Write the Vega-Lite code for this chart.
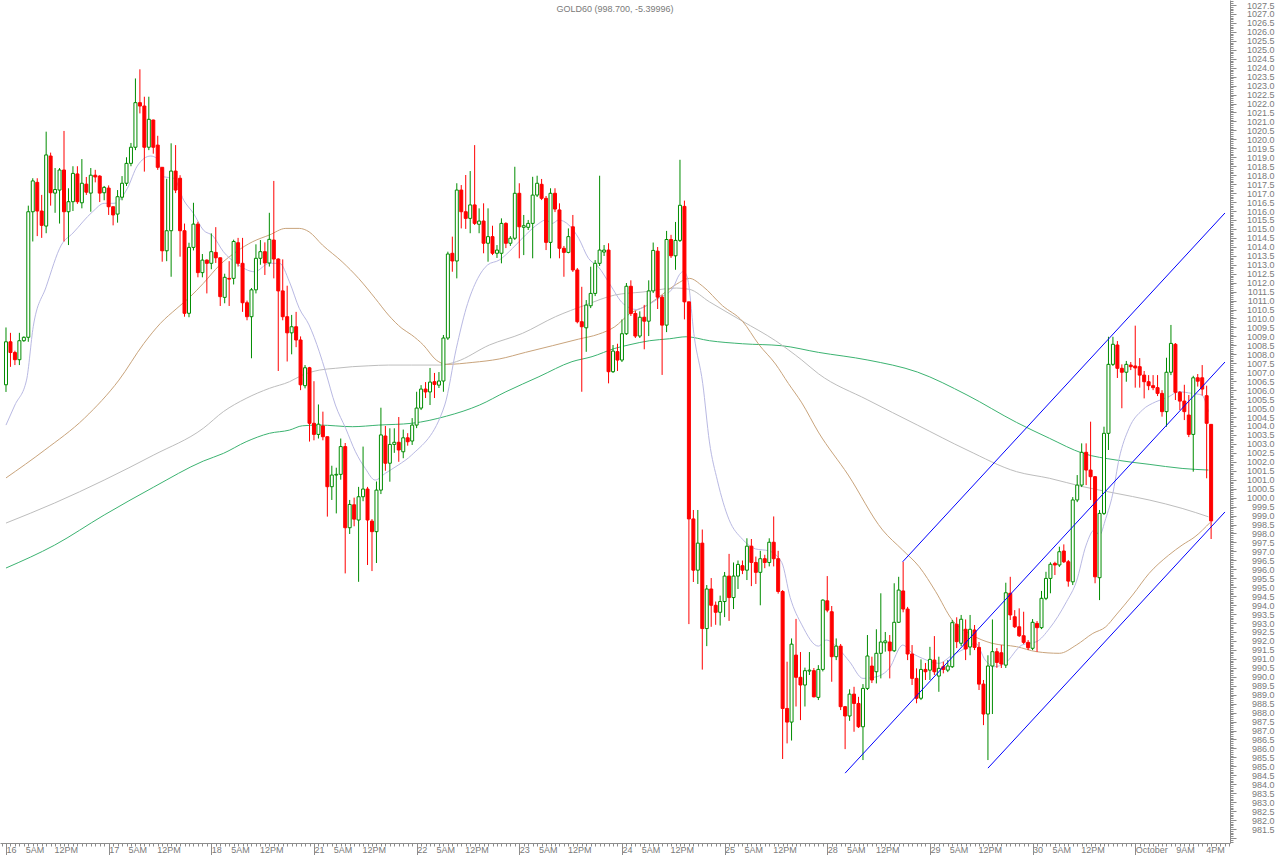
{
  "$schema": "https://vega.github.io/schema/vega-lite/v6.json",
  "width": 1230,
  "height": 843,
  "autosize": {"type": "none"},
  "padding": {"left": 0, "top": 0, "right": 50, "bottom": 12},
  "background": "white",
  "config": {"view": {"stroke": null}},
  "title": {"text": "GOLD60 (998.700, -5.39996)", "anchor": "middle", "frame": "group", "offset": -13, "dy": 1, "fontSize": 9, "font": "Liberation Sans", "fontWeight": "normal", "color": "#7a7a7a"},
  "resolve": {"axis": {"x": "independent", "y": "independent"}},
  "datasets": {
    "candles": [
      {"n":0,"o":1006.3,"h":1009.5,"l":1005.9,"c":1008.7},
      {"n":1,"o":1008.7,"h":1009.2,"l":1007.3,"c":1008.1},
      {"n":2,"o":1008.1,"h":1008.2,"l":1007.4,"c":1007.7},
      {"n":3,"o":1007.7,"h":1009.2,"l":1007.4,"c":1008.76},
      {"n":4,"o":1008.76,"h":1009.0,"l":1008.7,"c":1008.95},
      {"n":5,"o":1008.95,"h":1016.3,"l":1008.7,"c":1015.96},
      {"n":6,"o":1015.96,"h":1017.83,"l":1014.3,"c":1017.68},
      {"n":7,"o":1017.6,"h":1017.83,"l":1014.6,"c":1016.0},
      {"n":8,"o":1016.0,"h":1016.9,"l":1014.5,"c":1015.2},
      {"n":9,"o":1015.16,"h":1020.43,"l":1014.76,"c":1019.13},
      {"n":10,"o":1019.07,"h":1019.26,"l":1016.3,"c":1017.02},
      {"n":11,"o":1017.0,"h":1018.4,"l":1015.9,"c":1017.2},
      {"n":12,"o":1017.17,"h":1018.4,"l":1015.3,"c":1018.29},
      {"n":13,"o":1018.29,"h":1020.47,"l":1014.3,"c":1015.96},
      {"n":14,"o":1015.96,"h":1017.27,"l":1014.1,"c":1016.52},
      {"n":15,"o":1016.52,"h":1018.5,"l":1016.0,"c":1018.1},
      {"n":16,"o":1018.07,"h":1018.5,"l":1016.4,"c":1016.52},
      {"n":17,"o":1016.46,"h":1018.9,"l":1016.15,"c":1017.55},
      {"n":18,"o":1017.5,"h":1017.9,"l":1016.9,"c":1017.05},
      {"n":19,"o":1017.0,"h":1018.4,"l":1015.96,"c":1018.0},
      {"n":20,"o":1018.0,"h":1018.3,"l":1017.6,"c":1017.9},
      {"n":21,"o":1017.95,"h":1018.0,"l":1016.5,"c":1017.0},
      {"n":22,"o":1017.02,"h":1017.4,"l":1016.6,"c":1017.32},
      {"n":23,"o":1017.28,"h":1017.43,"l":1015.78,"c":1016.24},
      {"n":24,"o":1016.24,"h":1016.24,"l":1015.2,"c":1015.78},
      {"n":25,"o":1015.83,"h":1017.17,"l":1015.35,"c":1016.8},
      {"n":26,"o":1016.77,"h":1017.95,"l":1016.6,"c":1017.55},
      {"n":27,"o":1017.55,"h":1019.0,"l":1017.4,"c":1018.66},
      {"n":28,"o":1018.66,"h":1019.8,"l":1018.5,"c":1019.56},
      {"n":29,"o":1019.56,"h":1023.4,"l":1019.4,"c":1022.05},
      {"n":30,"o":1022.05,"h":1023.91,"l":1021.45,"c":1021.86},
      {"n":31,"o":1021.86,"h":1022.38,"l":1018.2,"c":1019.56},
      {"n":32,"o":1019.56,"h":1022.38,"l":1019.4,"c":1021.12},
      {"n":33,"o":1021.08,"h":1021.1,"l":1019.2,"c":1019.56},
      {"n":34,"o":1019.68,"h":1020.2,"l":1018.3,"c":1018.44},
      {"n":35,"o":1018.44,"h":1018.44,"l":1013.17,"c":1013.78},
      {"n":36,"o":1013.78,"h":1017.8,"l":1013.2,"c":1014.9},
      {"n":37,"o":1014.9,"h":1019.78,"l":1012.33,"c":1018.23},
      {"n":38,"o":1018.23,"h":1019.68,"l":1017.0,"c":1017.17},
      {"n":39,"o":1017.83,"h":1018.0,"l":1013.45,"c":1014.9},
      {"n":40,"o":1014.9,"h":1015.3,"l":1010.1,"c":1010.29},
      {"n":41,"o":1010.29,"h":1014.23,"l":1010.07,"c":1013.97},
      {"n":42,"o":1013.97,"h":1016.46,"l":1013.8,"c":1015.27},
      {"n":43,"o":1015.27,"h":1015.4,"l":1012.3,"c":1012.56},
      {"n":44,"o":1012.56,"h":1013.6,"l":1012.3,"c":1013.26},
      {"n":45,"o":1013.26,"h":1013.3,"l":1011.4,"c":1013.08},
      {"n":46,"o":1013.08,"h":1014.75,"l":1012.75,"c":1013.73},
      {"n":47,"o":1013.69,"h":1015.1,"l":1013.1,"c":1013.39},
      {"n":48,"o":1013.39,"h":1013.4,"l":1010.7,"c":1011.22},
      {"n":49,"o":1011.18,"h":1012.5,"l":1010.85,"c":1012.3},
      {"n":50,"o":1012.24,"h":1013.2,"l":1010.7,"c":1012.2},
      {"n":51,"o":1012.24,"h":1014.4,"l":1011.9,"c":1014.3},
      {"n":52,"o":1014.23,"h":1014.5,"l":1012.9,"c":1013.08},
      {"n":53,"o":1013.08,"h":1014.5,"l":1010.37,"c":1010.88},
      {"n":54,"o":1010.88,"h":1011.0,"l":1009.9,"c":1010.1},
      {"n":55,"o":1010.1,"h":1011.7,"l":1007.78,"c":1011.6},
      {"n":56,"o":1011.6,"h":1014.14,"l":1011.4,"c":1013.36},
      {"n":57,"o":1013.36,"h":1014.38,"l":1013.0,"c":1013.73},
      {"n":58,"o":1013.73,"h":1014.25,"l":1012.43,"c":1013.1},
      {"n":59,"o":1013.1,"h":1015.9,"l":1012.9,"c":1014.42},
      {"n":60,"o":1014.38,"h":1017.68,"l":1012.24,"c":1013.32},
      {"n":61,"o":1013.32,"h":1013.36,"l":1007.07,"c":1011.54},
      {"n":62,"o":1011.54,"h":1013.3,"l":1009.9,"c":1010.1},
      {"n":63,"o":1010.1,"h":1011.83,"l":1007.6,"c":1009.2},
      {"n":64,"o":1009.2,"h":1010.2,"l":1008.0,"c":1009.54},
      {"n":65,"o":1009.54,"h":1010.37,"l":1008.4,"c":1008.8},
      {"n":66,"o":1008.8,"h":1009.0,"l":1006.0,"c":1006.3},
      {"n":67,"o":1006.25,"h":1007.4,"l":1006.1,"c":1007.25},
      {"n":68,"o":1007.25,"h":1007.3,"l":1003.13,"c":1004.15},
      {"n":69,"o":1004.15,"h":1006.5,"l":1003.2,"c":1003.53},
      {"n":70,"o":1003.53,"h":1005.2,"l":1003.3,"c":1004.1},
      {"n":71,"o":1004.0,"h":1004.8,"l":1003.2,"c":1003.4},
      {"n":72,"o":1003.4,"h":1003.4,"l":998.94,"c":1000.61},
      {"n":73,"o":1000.61,"h":1001.78,"l":999.87,"c":1001.26},
      {"n":74,"o":1001.26,"h":1001.67,"l":999.12,"c":1001.3},
      {"n":75,"o":1001.3,"h":1003.3,"l":1001.0,"c":1002.85},
      {"n":76,"o":1002.85,"h":1003.05,"l":995.77,"c":998.32},
      {"n":77,"o":998.32,"h":999.87,"l":997.97,"c":999.62},
      {"n":78,"o":999.6,"h":1000.0,"l":998.4,"c":998.8},
      {"n":79,"o":998.75,"h":1000.6,"l":995.3,"c":1000.05},
      {"n":80,"o":1000.05,"h":1002.85,"l":999.8,"c":1000.48},
      {"n":81,"o":1000.48,"h":1000.6,"l":996.24,"c":998.75},
      {"n":82,"o":998.69,"h":998.8,"l":995.9,"c":998.1},
      {"n":83,"o":998.1,"h":1000.9,"l":996.35,"c":1000.42},
      {"n":84,"o":1000.42,"h":1005.02,"l":1000.2,"c":1003.5},
      {"n":85,"o":1003.44,"h":1004.0,"l":1001.5,"c":1001.92},
      {"n":86,"o":1001.92,"h":1003.87,"l":1000.89,"c":1002.97},
      {"n":87,"o":1002.97,"h":1003.87,"l":1002.5,"c":1003.09},
      {"n":88,"o":1003.09,"h":1004.5,"l":1002.0,"c":1002.66},
      {"n":89,"o":1002.56,"h":1003.8,"l":1002.2,"c":1003.34},
      {"n":90,"o":1003.34,"h":1003.6,"l":1002.9,"c":1003.12},
      {"n":91,"o":1003.16,"h":1004.44,"l":1002.94,"c":1004.05},
      {"n":92,"o":1004.05,"h":1005.91,"l":1003.88,"c":1005.0},
      {"n":93,"o":1005.0,"h":1006.28,"l":1004.89,"c":1006.06},
      {"n":94,"o":1006.06,"h":1006.45,"l":1005.56,"c":1005.9},
      {"n":95,"o":1005.9,"h":1007.24,"l":1005.17,"c":1006.45},
      {"n":96,"o":1006.47,"h":1006.96,"l":1005.56,"c":1006.32},
      {"n":97,"o":1006.28,"h":1007.01,"l":1006.12,"c":1006.51},
      {"n":98,"o":1006.51,"h":1009.08,"l":1005.91,"c":1008.91},
      {"n":99,"o":1008.91,"h":1013.73,"l":1008.8,"c":1013.6},
      {"n":100,"o":1013.64,"h":1014.57,"l":1012.61,"c":1013.21},
      {"n":101,"o":1013.21,"h":1017.55,"l":1012.24,"c":1017.17},
      {"n":102,"o":1017.17,"h":1017.45,"l":1015.03,"c":1015.96},
      {"n":103,"o":1015.96,"h":1018.01,"l":1015.0,"c":1015.59},
      {"n":104,"o":1015.59,"h":1018.23,"l":1014.76,"c":1016.34},
      {"n":105,"o":1016.34,"h":1019.68,"l":1015.22,"c":1015.31},
      {"n":106,"o":1015.26,"h":1016.15,"l":1014.76,"c":1015.44},
      {"n":107,"o":1015.44,"h":1016.43,"l":1013.64,"c":1014.2},
      {"n":108,"o":1014.2,"h":1016.15,"l":1013.17,"c":1014.57},
      {"n":109,"o":1014.57,"h":1015.18,"l":1013.54,"c":1013.64},
      {"n":110,"o":1013.64,"h":1014.1,"l":1013.38,"c":1013.82},
      {"n":111,"o":1013.64,"h":1015.59,"l":1013.08,"c":1015.31},
      {"n":112,"o":1015.31,"h":1015.37,"l":1013.93,"c":1014.2},
      {"n":113,"o":1014.2,"h":1014.6,"l":1014.05,"c":1014.48},
      {"n":114,"o":1014.48,"h":1018.47,"l":1014.38,"c":1016.99},
      {"n":115,"o":1016.99,"h":1017.55,"l":1013.36,"c":1015.12},
      {"n":116,"o":1015.09,"h":1015.78,"l":1013.54,"c":1015.18},
      {"n":117,"o":1015.09,"h":1015.5,"l":1014.94,"c":1015.31},
      {"n":118,"o":1015.31,"h":1017.91,"l":1013.36,"c":1016.89},
      {"n":119,"o":1016.89,"h":1017.97,"l":1016.78,"c":1017.55},
      {"n":120,"o":1017.49,"h":1017.79,"l":1016.61,"c":1016.71},
      {"n":121,"o":1016.71,"h":1016.84,"l":1013.82,"c":1014.25},
      {"n":122,"o":1014.25,"h":1017.27,"l":1013.36,"c":1016.99},
      {"n":123,"o":1016.99,"h":1017.27,"l":1015.94,"c":1016.11},
      {"n":124,"o":1016.06,"h":1016.43,"l":1013.36,"c":1013.92},
      {"n":125,"o":1013.92,"h":1014.05,"l":1012.33,"c":1013.69},
      {"n":126,"o":1013.69,"h":1015.03,"l":1013.64,"c":1014.57},
      {"n":127,"o":1015.12,"h":1015.78,"l":1012.6,"c":1012.71},
      {"n":128,"o":1012.71,"h":1012.82,"l":1009.73,"c":1009.82},
      {"n":129,"o":1009.82,"h":1011.77,"l":1005.91,"c":1009.54},
      {"n":130,"o":1009.48,"h":1011.03,"l":1008.14,"c":1010.75},
      {"n":131,"o":1010.71,"h":1012.89,"l":1010.58,"c":1011.4},
      {"n":132,"o":1011.4,"h":1013.26,"l":1011.25,"c":1013.08},
      {"n":133,"o":1013.08,"h":1017.97,"l":1012.93,"c":1013.82},
      {"n":134,"o":1013.71,"h":1014.1,"l":1013.49,"c":1013.82},
      {"n":135,"o":1013.82,"h":1014.2,"l":1006.38,"c":1007.03},
      {"n":136,"o":1007.03,"h":1008.52,"l":1006.96,"c":1008.18},
      {"n":137,"o":1008.15,"h":1008.59,"l":1007.07,"c":1007.68},
      {"n":138,"o":1007.68,"h":1009.95,"l":1007.57,"c":1009.15},
      {"n":139,"o":1009.15,"h":1011.98,"l":1009.08,"c":1011.8},
      {"n":140,"o":1011.8,"h":1012.13,"l":1010.14,"c":1010.28},
      {"n":141,"o":1010.28,"h":1010.42,"l":1008.91,"c":1009.02},
      {"n":142,"o":1009.02,"h":1010.4,"l":1008.91,"c":1010.07},
      {"n":143,"o":1010.07,"h":1010.76,"l":1008.28,"c":1009.85},
      {"n":144,"o":1009.85,"h":1012.13,"l":1009.02,"c":1011.54},
      {"n":145,"o":1011.54,"h":1014.24,"l":1011.42,"c":1013.8},
      {"n":146,"o":1013.76,"h":1013.99,"l":1010.53,"c":1011.19},
      {"n":147,"o":1011.19,"h":1011.31,"l":1006.85,"c":1009.63},
      {"n":148,"o":1009.63,"h":1014.89,"l":1009.24,"c":1014.41},
      {"n":149,"o":1014.41,"h":1014.67,"l":1013.38,"c":1013.5},
      {"n":150,"o":1013.5,"h":1015.39,"l":1012.72,"c":1014.36},
      {"n":151,"o":1014.36,"h":1018.86,"l":1014.27,"c":1016.32},
      {"n":152,"o":1016.26,"h":1016.58,"l":1009.95,"c":1010.93},
      {"n":153,"o":1010.93,"h":1010.93,"l":992.94,"c":998.81},
      {"n":154,"o":998.81,"h":999.31,"l":995.29,"c":995.95},
      {"n":155,"o":995.95,"h":999.31,"l":995.18,"c":997.46},
      {"n":156,"o":997.46,"h":998.22,"l":990.4,"c":992.69},
      {"n":157,"o":992.69,"h":995.12,"l":991.71,"c":994.9},
      {"n":158,"o":994.9,"h":995.51,"l":992.79,"c":993.99},
      {"n":159,"o":993.99,"h":994.2,"l":992.9,"c":993.6},
      {"n":160,"o":993.6,"h":994.53,"l":992.86,"c":994.2},
      {"n":161,"o":994.2,"h":995.85,"l":993.33,"c":995.62},
      {"n":162,"o":995.62,"h":996.86,"l":993.12,"c":994.42},
      {"n":163,"o":994.42,"h":996.38,"l":993.78,"c":995.62},
      {"n":164,"o":995.62,"h":996.49,"l":994.9,"c":996.27},
      {"n":165,"o":996.2,"h":996.49,"l":995.73,"c":995.95},
      {"n":166,"o":995.95,"h":997.73,"l":995.4,"c":997.29},
      {"n":167,"o":997.29,"h":997.69,"l":995.06,"c":996.38},
      {"n":168,"o":996.38,"h":996.71,"l":995.18,"c":995.83},
      {"n":169,"o":995.83,"h":997.03,"l":993.99,"c":996.59},
      {"n":170,"o":996.59,"h":996.81,"l":996.06,"c":996.38},
      {"n":171,"o":996.38,"h":997.73,"l":996.16,"c":997.51},
      {"n":172,"o":997.51,"h":998.95,"l":996.16,"c":996.59},
      {"n":173,"o":996.59,"h":997.03,"l":994.64,"c":994.76},
      {"n":174,"o":994.76,"h":994.84,"l":985.41,"c":988.23},
      {"n":175,"o":988.23,"h":990.84,"l":986.28,"c":987.47},
      {"n":176,"o":987.47,"h":992.14,"l":986.44,"c":991.82},
      {"n":177,"o":991.21,"h":993.23,"l":988.34,"c":989.97},
      {"n":178,"o":989.97,"h":991.38,"l":987.58,"c":989.54},
      {"n":179,"o":989.54,"h":990.51,"l":988.34,"c":990.34},
      {"n":180,"o":990.32,"h":991.38,"l":990.1,"c":990.37},
      {"n":181,"o":990.34,"h":990.49,"l":988.85,"c":988.88},
      {"n":182,"o":988.85,"h":990.65,"l":988.7,"c":990.41},
      {"n":183,"o":990.41,"h":994.32,"l":990.3,"c":994.28},
      {"n":184,"o":994.24,"h":995.62,"l":993.6,"c":993.72},
      {"n":185,"o":993.63,"h":993.95,"l":989.72,"c":991.12},
      {"n":186,"o":991.12,"h":992.14,"l":990.93,"c":991.71},
      {"n":187,"o":991.71,"h":991.83,"l":988.14,"c":988.33},
      {"n":188,"o":988.33,"h":988.37,"l":985.96,"c":987.81},
      {"n":189,"o":987.81,"h":989.3,"l":987.54,"c":989.03},
      {"n":190,"o":989.03,"h":989.44,"l":986.93,"c":988.51},
      {"n":191,"o":988.51,"h":988.88,"l":987.14,"c":987.21},
      {"n":192,"o":987.21,"h":989.59,"l":985.35,"c":989.35},
      {"n":193,"o":989.35,"h":992.33,"l":989.26,"c":991.16},
      {"n":194,"o":990.6,"h":991.12,"l":989.65,"c":989.82},
      {"n":195,"o":990.28,"h":992.65,"l":989.63,"c":991.31},
      {"n":196,"o":991.31,"h":994.66,"l":989.91,"c":991.94},
      {"n":197,"o":991.9,"h":992.5,"l":991.4,"c":992.0},
      {"n":198,"o":991.94,"h":992.33,"l":989.91,"c":991.45},
      {"n":199,"o":991.45,"h":995.22,"l":991.38,"c":993.04},
      {"n":200,"o":993.04,"h":995.58,"l":993.0,"c":994.84},
      {"n":201,"o":994.79,"h":996.42,"l":993.6,"c":993.78},
      {"n":202,"o":993.78,"h":993.9,"l":990.93,"c":991.27},
      {"n":203,"o":991.27,"h":991.77,"l":989.54,"c":989.91},
      {"n":204,"o":989.91,"h":990.47,"l":988.52,"c":988.8},
      {"n":205,"o":988.8,"h":990.97,"l":988.7,"c":990.41},
      {"n":206,"o":990.41,"h":990.77,"l":989.82,"c":990.28},
      {"n":207,"o":990.37,"h":991.67,"l":989.82,"c":990.97},
      {"n":208,"o":990.93,"h":992.27,"l":990.1,"c":990.28},
      {"n":209,"o":990.04,"h":991.12,"l":989.16,"c":990.47},
      {"n":210,"o":990.56,"h":990.84,"l":990.19,"c":990.41},
      {"n":211,"o":990.37,"h":990.93,"l":990.26,"c":990.6},
      {"n":212,"o":990.56,"h":993.17,"l":990.49,"c":993.02},
      {"n":213,"o":992.93,"h":993.32,"l":991.6,"c":991.96},
      {"n":214,"o":991.87,"h":993.45,"l":991.71,"c":993.21},
      {"n":215,"o":992.65,"h":993.2,"l":990.93,"c":991.55},
      {"n":216,"o":991.66,"h":993.45,"l":991.2,"c":992.65},
      {"n":217,"o":992.61,"h":992.89,"l":991.49,"c":991.64},
      {"n":218,"o":991.64,"h":991.94,"l":989.26,"c":989.59},
      {"n":219,"o":989.59,"h":989.82,"l":987.3,"c":987.92},
      {"n":220,"o":987.92,"h":991.2,"l":985.35,"c":990.6},
      {"n":221,"o":990.6,"h":993.2,"l":987.92,"c":991.4},
      {"n":222,"o":991.4,"h":991.6,"l":990.5,"c":990.8},
      {"n":223,"o":991.34,"h":991.77,"l":990.49,"c":990.71},
      {"n":224,"o":990.65,"h":995.25,"l":990.49,"c":994.69},
      {"n":225,"o":994.66,"h":995.58,"l":993.17,"c":993.45},
      {"n":226,"o":993.35,"h":993.72,"l":992.72,"c":992.79},
      {"n":227,"o":992.79,"h":993.82,"l":992.22,"c":992.29},
      {"n":228,"o":992.29,"h":993.63,"l":991.83,"c":991.92},
      {"n":229,"o":991.92,"h":992.05,"l":991.49,"c":991.62},
      {"n":230,"o":991.59,"h":993.22,"l":991.49,"c":993.04},
      {"n":231,"o":992.98,"h":993.11,"l":991.39,"c":992.74},
      {"n":232,"o":992.74,"h":994.79,"l":992.66,"c":994.38},
      {"n":233,"o":994.38,"h":995.86,"l":994.28,"c":995.49},
      {"n":234,"o":995.49,"h":996.39,"l":994.66,"c":996.28},
      {"n":235,"o":996.33,"h":996.42,"l":995.68,"c":996.24},
      {"n":236,"o":996.24,"h":997.26,"l":996.13,"c":996.98},
      {"n":237,"o":997.02,"h":997.39,"l":996.35,"c":996.42},
      {"n":238,"o":996.42,"h":996.52,"l":995.03,"c":995.34},
      {"n":239,"o":995.3,"h":1000.03,"l":995.12,"c":999.87},
      {"n":240,"o":999.87,"h":1001.26,"l":999.75,"c":1000.7},
      {"n":241,"o":1000.7,"h":1003.03,"l":1000.59,"c":1002.53},
      {"n":242,"o":1002.53,"h":1003.03,"l":1000.7,"c":1001.54},
      {"n":243,"o":1001.54,"h":1004.24,"l":999.87,"c":1001.17},
      {"n":244,"o":1001.17,"h":1001.2,"l":995.22,"c":995.58},
      {"n":245,"o":995.53,"h":999.31,"l":994.28,"c":999.12},
      {"n":246,"o":999.12,"h":1003.96,"l":999.03,"c":1003.59},
      {"n":247,"o":1003.59,"h":1008.98,"l":1002.66,"c":1007.44},
      {"n":248,"o":1007.44,"h":1008.98,"l":1007.35,"c":1008.56},
      {"n":249,"o":1008.52,"h":1008.74,"l":1006.68,"c":1007.22},
      {"n":250,"o":1007.22,"h":1007.44,"l":1004.99,"c":1007.0},
      {"n":251,"o":1007.0,"h":1007.63,"l":1006.47,"c":1007.44},
      {"n":252,"o":1007.4,"h":1007.57,"l":1007.12,"c":1007.31},
      {"n":253,"o":1007.35,"h":1009.6,"l":1006.14,"c":1007.24},
      {"n":254,"o":1007.31,"h":1007.79,"l":1006.14,"c":1006.84},
      {"n":255,"o":1006.84,"h":1007.07,"l":1005.54,"c":1006.47},
      {"n":256,"o":1006.47,"h":1006.84,"l":1006.0,"c":1006.25},
      {"n":257,"o":1006.25,"h":1006.84,"l":1006.0,"c":1006.14},
      {"n":258,"o":1006.14,"h":1006.84,"l":1005.67,"c":1005.82},
      {"n":259,"o":1005.82,"h":1006.0,"l":1004.52,"c":1004.8},
      {"n":260,"o":1004.8,"h":1007.81,"l":1003.96,"c":1007.0},
      {"n":261,"o":1007.0,"h":1009.64,"l":1006.84,"c":1008.61},
      {"n":262,"o":1008.56,"h":1008.63,"l":1005.45,"c":1005.88},
      {"n":263,"o":1005.88,"h":1005.95,"l":1004.89,"c":1005.39},
      {"n":264,"o":1005.39,"h":1006.3,"l":1004.33,"c":1004.8},
      {"n":265,"o":1004.61,"h":1005.73,"l":1003.38,"c":1003.53},
      {"n":266,"o":1003.53,"h":1006.8,"l":1001.45,"c":1006.69},
      {"n":267,"o":1006.69,"h":1006.9,"l":1006.2,"c":1006.5},
      {"n":268,"o":1006.69,"h":1007.4,"l":1005.7,"c":1006.06},
      {"n":269,"o":1005.69,"h":1006.25,"l":1001.08,"c":1004.15},
      {"n":270,"o":1004.09,"h":1004.1,"l":997.69,"c":998.7}
    ],
    "ma": [
      {"s":"E","n":0,"v":996.07},{"s":"E","n":10.9,"v":997.35},{"s":"E","n":22,"v":999.03},{"s":"E","n":33.1,"v":1000.59},{"s":"E","n":44.2,"v":1002.04},{"s":"E","n":48.7,"v":1002.47},{"s":"E","n":53.8,"v":1003.12},{"s":"E","n":59,"v":1003.59},{"s":"E","n":63.5,"v":1003.77},{"s":"E","n":66.4,"v":1004.01},{"s":"E","n":70.2,"v":1004.05},{"s":"E","n":77.6,"v":1003.96},{"s":"E","n":83.5,"v":1004.05},{"s":"E","n":90.9,"v":1004.15},{"s":"E","n":98.7,"v":1004.55},{"s":"E","n":106.1,"v":1005.17},{"s":"E","n":112,"v":1005.91},{"s":"E","n":119.4,"v":1006.75},{"s":"E","n":126.8,"v":1007.59},{"s":"E","n":131.3,"v":1007.87},{"s":"E","n":136.4,"v":1008.33},{"s":"E","n":139.8,"v":1008.54},{"s":"E","n":144.2,"v":1008.76},{"s":"E","n":148.7,"v":1008.87},{"s":"E","n":152.4,"v":1008.98},{"s":"E","n":157.6,"v":1008.76},{"s":"E","n":165,"v":1008.59},{"s":"E","n":173.8,"v":1008.48},{"s":"E","n":182,"v":1008.11},{"s":"E","n":193.1,"v":1007.68},{"s":"E","n":204.2,"v":1007.01},{"s":"E","n":215.3,"v":1005.73},{"s":"E","n":226.4,"v":1004.2},{"s":"E","n":233.8,"v":1003.31},{"s":"E","n":241.3,"v":1002.47},{"s":"E","n":248.7,"v":1002.1},{"s":"E","n":256.1,"v":1001.86},{"s":"E","n":263.5,"v":1001.63},{"s":"E","n":269.4,"v":1001.54},
      {"s":"G","n":0,"v":998.58},{"s":"G","n":10.9,"v":999.7},{"s":"G","n":22,"v":1000.98},{"s":"G","n":33.1,"v":1002.38},{"s":"G","n":44.2,"v":1003.87},{"s":"G","n":48.7,"v":1004.8},{"s":"G","n":53.8,"v":1005.54},{"s":"G","n":59,"v":1006.1},{"s":"G","n":63.5,"v":1006.47},{"s":"G","n":66.4,"v":1006.84},{"s":"G","n":70.2,"v":1007.12},{"s":"G","n":73.8,"v":1007.22},{"s":"G","n":77.6,"v":1007.31},{"s":"G","n":81.3,"v":1007.36},{"s":"G","n":85.7,"v":1007.4},{"s":"G","n":90.9,"v":1007.4},{"s":"G","n":97.2,"v":1007.4},{"s":"G","n":100.9,"v":1007.59},{"s":"G","n":108.3,"v":1008.52},{"s":"G","n":115.7,"v":1009.17},{"s":"G","n":123.1,"v":1010.1},{"s":"G","n":129.8,"v":1010.75},{"s":"G","n":136.4,"v":1011.31},{"s":"G","n":142.7,"v":1011.48},{"s":"G","n":150.2,"v":1011.7},{"s":"G","n":153.1,"v":1011.63},{"s":"G","n":157.6,"v":1010.93},{"s":"G","n":165,"v":1009.85},{"s":"G","n":172.4,"v":1008.76},{"s":"G","n":178.3,"v":1007.68},{"s":"G","n":182,"v":1006.92},{"s":"G","n":193.1,"v":1005.45},{"s":"G","n":204.2,"v":1004.05},{"s":"G","n":215.3,"v":1002.66},{"s":"G","n":226.4,"v":1001.45},{"s":"G","n":233.8,"v":1001.08},{"s":"G","n":241.3,"v":1000.61},{"s":"G","n":248.7,"v":1000.24},{"s":"G","n":256.1,"v":999.87},{"s":"G","n":263.5,"v":999.4},{"s":"G","n":269.4,"v":998.93},
      {"s":"T","n":0,"v":1001.1},{"s":"T","n":8.7,"v":1002.66},{"s":"T","n":17.6,"v":1004.44},{"s":"T","n":25.3,"v":1006.56},{"s":"T","n":30.9,"v":1008.61},{"s":"T","n":34.6,"v":1009.73},{"s":"T","n":38.3,"v":1010.57},{"s":"T","n":41.3,"v":1011.22},{"s":"T","n":44.2,"v":1011.96},{"s":"T","n":47.9,"v":1012.99},{"s":"T","n":51.6,"v":1013.73},{"s":"T","n":55.3,"v":1014.29},{"s":"T","n":59,"v":1014.66},{"s":"T","n":62.7,"v":1015.03},{"s":"T","n":65.7,"v":1015.03},{"s":"T","n":67.9,"v":1014.84},{"s":"T","n":70.9,"v":1014.1},{"s":"T","n":75.3,"v":1013.17},{"s":"T","n":79,"v":1012.24},{"s":"T","n":82.7,"v":1011.13},{"s":"T","n":85.7,"v":1010.19},{"s":"T","n":88.7,"v":1009.45},{"s":"T","n":90.9,"v":1009.08},{"s":"T","n":93.5,"v":1008.52},{"s":"T","n":96.4,"v":1007.68},{"s":"T","n":98.7,"v":1007.44},{"s":"T","n":104.6,"v":1007.55},{"s":"T","n":110.5,"v":1007.74},{"s":"T","n":116.4,"v":1008.11},{"s":"T","n":122.4,"v":1008.48},{"s":"T","n":128.3,"v":1008.85},{"s":"T","n":132.7,"v":1009.12},{"s":"T","n":136.4,"v":1009.54},{"s":"T","n":139.8,"v":1010.28},{"s":"T","n":143.5,"v":1010.72},{"s":"T","n":147.2,"v":1011.37},{"s":"T","n":150.2,"v":1011.91},{"s":"T","n":153.1,"v":1012.24},{"s":"T","n":156.1,"v":1011.8},{"s":"T","n":160.5,"v":1010.72},{"s":"T","n":165,"v":1009.85},{"s":"T","n":168.7,"v":1008.54},{"s":"T","n":172.4,"v":1007.46},{"s":"T","n":175.3,"v":1006.37},{"s":"T","n":178.3,"v":1005.29},{"s":"T","n":182,"v":1003.66},{"s":"T","n":188.7,"v":1001.26},{"s":"T","n":196.4,"v":998.19},{"s":"T","n":200.9,"v":997.07},{"s":"T","n":204.6,"v":996.14},{"s":"T","n":208.3,"v":994.75},{"s":"T","n":212,"v":993.17},{"s":"T","n":216.4,"v":992.33},{"s":"T","n":220.9,"v":991.87},{"s":"T","n":226.4,"v":991.68},{"s":"T","n":230.9,"v":991.4},{"s":"T","n":236,"v":991.31},{"s":"T","n":239.8,"v":991.77},{"s":"T","n":243.5,"v":992.42},{"s":"T","n":246.4,"v":992.79},{"s":"T","n":248.7,"v":993.45},{"s":"T","n":252.4,"v":994.56},{"s":"T","n":256.1,"v":995.77},{"s":"T","n":260.5,"v":996.79},{"s":"T","n":263.5,"v":997.35},{"s":"T","n":266.4,"v":997.82},{"s":"T","n":269.8,"v":998.62},
      {"s":"L","n":0,"v":1004.05},{"s":"L","n":2,"v":1005.17},{"s":"L","n":4.6,"v":1006.56},{"s":"L","n":6.1,"v":1009.54},{"s":"L","n":9,"v":1011.77},{"s":"L","n":12.4,"v":1014.1},{"s":"L","n":15,"v":1014.77},{"s":"L","n":19.4,"v":1015.96},{"s":"L","n":22,"v":1016.43},{"s":"L","n":24.2,"v":1016.43},{"s":"L","n":27.2,"v":1017.27},{"s":"L","n":29.4,"v":1018.51},{"s":"L","n":32.4,"v":1019.07},{"s":"L","n":33.8,"v":1018.94},{"s":"L","n":35.3,"v":1017.91},{"s":"L","n":37.6,"v":1017.83},{"s":"L","n":39.8,"v":1016.61},{"s":"L","n":42,"v":1015.87},{"s":"L","n":44.2,"v":1014.94},{"s":"L","n":46.4,"v":1014.6},{"s":"L","n":48.7,"v":1013.73},{"s":"L","n":51.6,"v":1013.08},{"s":"L","n":55.7,"v":1012.61},{"s":"L","n":59,"v":1013.08},{"s":"L","n":61.3,"v":1013.08},{"s":"L","n":63.5,"v":1012.05},{"s":"L","n":65.7,"v":1010.57},{"s":"L","n":67.9,"v":1009.64},{"s":"L","n":70.2,"v":1008.14},{"s":"L","n":71.6,"v":1007.03},{"s":"L","n":73.8,"v":1005.17},{"s":"L","n":76.1,"v":1003.87},{"s":"L","n":78.3,"v":1002.56},{"s":"L","n":80.5,"v":1001.63},{"s":"L","n":82.7,"v":1000.98},{"s":"L","n":85,"v":1001.36},{"s":"L","n":87.9,"v":1001.82},{"s":"L","n":90.9,"v":1002.38},{"s":"L","n":98.3,"v":1005.17},{"s":"L","n":100.9,"v":1008.34},{"s":"L","n":103.1,"v":1010.57},{"s":"L","n":105.7,"v":1012.24},{"s":"L","n":107.9,"v":1012.99},{"s":"L","n":110.5,"v":1013.26},{"s":"L","n":113.5,"v":1013.92},{"s":"L","n":116.4,"v":1014.66},{"s":"L","n":119.4,"v":1015.31},{"s":"L","n":120.9,"v":1015.5},{"s":"L","n":122.4,"v":1015.31},{"s":"L","n":123.8,"v":1015.5},{"s":"L","n":126.1,"v":1015.22},{"s":"L","n":128.3,"v":1014.48},{"s":"L","n":130.5,"v":1013.36},{"s":"L","n":132.7,"v":1012.89},{"s":"L","n":135.3,"v":1011.91},{"s":"L","n":138.3,"v":1010.82},{"s":"L","n":141.3,"v":1010.5},{"s":"L","n":143.5,"v":1010.72},{"s":"L","n":146.4,"v":1011.15},{"s":"L","n":149.4,"v":1011.7},{"s":"L","n":150.9,"v":1012.46},{"s":"L","n":151.8,"v":1012.63},{"s":"L","n":152.7,"v":1012.24},{"s":"L","n":154.2,"v":1008.98},{"s":"L","n":156.1,"v":1006.37},{"s":"L","n":157.6,"v":1003.11},{"s":"L","n":159.4,"v":1000.94},{"s":"L","n":162,"v":998.77},{"s":"L","n":165,"v":997.68},{"s":"L","n":167.9,"v":997.14},{"s":"L","n":170.9,"v":997.03},{"s":"L","n":173.8,"v":996.38},{"s":"L","n":175.7,"v":994.42},{"s":"L","n":178.3,"v":992.9},{"s":"L","n":182,"v":991.71},{"s":"L","n":183.8,"v":992.05},{"s":"L","n":186.8,"v":991.49},{"s":"L","n":189,"v":990.84},{"s":"L","n":192,"v":989.91},{"s":"L","n":195,"v":990.0},{"s":"L","n":197.9,"v":990.47},{"s":"L","n":200.9,"v":991.77},{"s":"L","n":203.1,"v":991.31},{"s":"L","n":205.3,"v":991.03},{"s":"L","n":209,"v":990.75},{"s":"L","n":212,"v":991.21},{"s":"L","n":215,"v":991.59},{"s":"L","n":217.2,"v":991.87},{"s":"L","n":219.4,"v":990.93},{"s":"L","n":221.3,"v":990.56},{"s":"L","n":223.8,"v":990.75},{"s":"L","n":227.6,"v":991.77},{"s":"L","n":230.9,"v":991.96},{"s":"L","n":233.8,"v":992.7},{"s":"L","n":237.6,"v":994.19},{"s":"L","n":239.8,"v":995.3},{"s":"L","n":242,"v":997.35},{"s":"L","n":243.8,"v":998.19},{"s":"L","n":245,"v":997.91},{"s":"L","n":246.4,"v":998.84},{"s":"L","n":247.9,"v":1000.14},{"s":"L","n":249.4,"v":1002.19},{"s":"L","n":251.6,"v":1003.87},{"s":"L","n":254.6,"v":1004.89},{"s":"L","n":257.6,"v":1005.35},{"s":"L","n":260.5,"v":1005.63},{"s":"L","n":262.7,"v":1005.91},{"s":"L","n":265.7,"v":1005.82},{"s":"L","n":267.9,"v":1005.73},{"s":"L","n":269.4,"v":1004.8}
    ],
    "channel": [
      {"s":"U","n":200.9,"v":996.42},{"s":"U","n":273.1,"v":1015.89},
      {"s":"M","n":188.0,"v":984.62},{"s":"M","n":273.1,"v":1007.57},
      {"s":"B","n":220.0,"v":984.9},{"s":"B","n":273.1,"v":999.2}
    ]
  },
  "layer": [
    {
      "data": {"name": "ma"},
      "mark": {"type": "line", "strokeWidth": 1, "clip": true, "interpolate": "monotone"},
      "encoding": {
        "x": {"field": "n", "type": "quantitative", "title": null,
          "scale": {"domain": [-0.222, 273.11], "nice": false, "zero": false},
          "axis": {
            "orient": "bottom", "grid": false, "title": null, "ticks": false, "tickSize": 0,
            "values": [0, 4.33, 10.78, 23, 27.33, 33.78, 46, 50.33, 56.78, 69, 73.33, 79.78, 92, 96.33, 102.78, 115, 119.33, 125.78, 138, 142.33, 148.78, 161, 165.33, 171.78, 184, 188.33, 194.78, 207, 211.33, 217.78, 230, 234.33, 240.78, 253, 262.1, 268.8],
            "labelExpr": "abs(datum.value % 23) < 0.01 ? ['16','17','18','21','22','23','24','25','28','29','30','October'][round(datum.value / 23)] : (abs(datum.value % 23 - 4.33) < 0.05 ? '5AM' : (abs(datum.value % 23 - 10.78) < 0.05 ? '12PM' : (abs(datum.value - 262.1) < 0.05 ? '9AM' : '4PM')))",
            "labelAlign": "left", "labelBaseline": "top", "labelPadding": 2, "labelDx": 1,
            "labelOverlap": false, "labelBound": false, "labelFlush": false,
            "labelFont": "Liberation Sans", "labelFontSize": 9, "labelColor": "#7a7a7a",
            "domainColor": "#8c8c8c", "domainWidth": 1
          }
        },
        "y": {"field": "v", "type": "quantitative", "title": null,
          "scale": {"domain": [980.72, 1027.78], "nice": false, "zero": false},
          "axis": {
            "orient": "right", "tickCount": 94, "grid": false, "title": null,
            "labelExpr": "datum.value < 981.4 ? '' : format(datum.value, '.1f')",
            "tickSize": 6,
            "labelAlign": "right", "labelPadding": 38,
            "labelOverlap": false, "labelBound": false, "labelFlush": false,
            "labelFont": "Liberation Sans", "labelFontSize": 9, "labelColor": "#7a7a7a",
            "domainColor": "#8c8c8c", "tickColor": "#8c8c8c", "domainWidth": 1, "tickWidth": 1
          }
        },
        "color": {"field": "s", "type": "nominal", "legend": null,
          "scale": {"domain": ["E", "G", "T", "L"], "range": ["#3cb371", "#bdbdbd", "#c9a47c", "#b9b9e3"]}},
        "detail": {"field": "s"}
      }
    },
    {
      "data": {"name": "candles"},
      "mark": {"type": "rule", "strokeWidth": 1, "clip": true},
      "encoding": {
        "x": {"field": "n", "type": "quantitative", "title": null,
          "axis": {"orient": "bottom", "tickCount": 273, "tickSize": 3, "labels": false, "domain": false, "grid": false, "title": null, "tickColor": "#8c8c8c", "tickWidth": 1}},
        "y": {"field": "l", "type": "quantitative", "title": null,
          "axis": {"orient": "right", "tickCount": 470, "tickSize": 3, "labels": false, "domain": false, "grid": false, "title": null, "tickColor": "#8c8c8c", "tickWidth": 1}},
        "y2": {"field": "h"},
        "color": {"condition": {"test": "datum.c >= datum.o", "value": "#008c00"}, "value": "#ff0000"}
      }
    },
    {
      "data": {"name": "candles"},
      "mark": {"type": "bar", "size": 3, "strokeWidth": 1, "clip": true},
      "encoding": {
        "x": {"field": "n", "type": "quantitative", "title": null,
          "axis": {"orient": "bottom", "values": [0, 23, 46, 69, 92, 115, 138, 161, 184, 207, 230, 253], "tickSize": 12, "labels": false, "domain": false, "grid": false, "title": null, "tickColor": "#8c8c8c", "tickWidth": 1}},
        "y": {"field": "o", "type": "quantitative", "title": null, "axis": null},
        "y2": {"field": "c"},
        "fill": {"condition": {"test": "datum.c >= datum.o", "value": "#ffffff"}, "value": "#ff0000"},
        "stroke": {"condition": {"test": "datum.c >= datum.o", "value": "#008c00"}, "value": "#ff0000"}
      }
    },
    {
      "data": {"name": "channel"},
      "mark": {"type": "line", "strokeWidth": 1, "clip": true, "color": "#0000ff"},
      "encoding": {
        "x": {"field": "n", "type": "quantitative", "title": null, "axis": null},
        "y": {"field": "v", "type": "quantitative", "title": null, "axis": null},
        "detail": {"field": "s"}
      }
    }
  ]
}
